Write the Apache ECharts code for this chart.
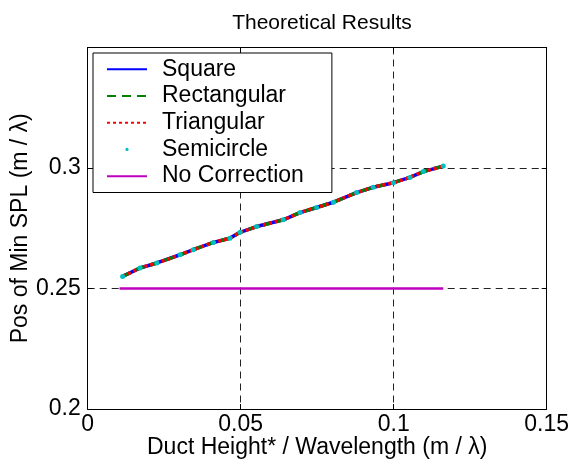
<!DOCTYPE html>
<html>
<head>
<meta charset="utf-8">
<script src="https://cdn.jsdelivr.net/npm/echarts@6/dist/echarts.min.js"></script>
<style>
html,body{margin:0;padding:0;background:#fff;}
#chart{width:573px;height:464px;}
</style>
</head>
<body>
<div id="chart"></div>
<script>
// ---- data ----
const xCorrected = [0.0114,0.0171,0.0226,0.0302,0.0345,0.0411,0.0465,0.0498,0.0552,0.0639,0.0694,0.0748,0.0803,0.0879,0.0933,0.0999,0.1053,0.1097,0.1162];
const ySquare      = [0.2550,0.2585,0.2606,0.2640,0.2661,0.2691,0.2709,0.2733,0.2757,0.2785,0.2815,0.2836,0.2858,0.2898,0.2920,0.2939,0.2961,0.2985,0.3008];
const yRectangular = [0.2550,0.2585,0.2606,0.2640,0.2661,0.2691,0.2709,0.2733,0.2757,0.2785,0.2815,0.2836,0.2858,0.2898,0.2920,0.2939,0.2961,0.2985,0.3008];
const yTriangular  = [0.2550,0.2585,0.2606,0.2640,0.2661,0.2691,0.2709,0.2733,0.2757,0.2785,0.2815,0.2836,0.2858,0.2898,0.2920,0.2939,0.2961,0.2985,0.3008];
const ySemicircle  = [0.2550,0.2585,0.2606,0.2640,0.2661,0.2691,0.2709,0.2733,0.2757,0.2785,0.2815,0.2836,0.2858,0.2898,0.2920,0.2939,0.2961,0.2985,0.3008];
const xNoCorrection = [0.0104, 0.1162];
const yNoCorrection = [0.25, 0.25];
const seriesNames = ['Square','Rectangular','Triangular','Semicircle','No Correction'];
const xTicks = [0, 0.05, 0.1, 0.15];
const yTicks = [0.2, 0.25, 0.3];

const pairs = (xs, ys) => xs.map((x, i) => [x, ys[i]]);
const FONT = "'Liberation Sans', Arial, Helvetica, sans-serif";
const FS = 23;

const chart = echarts.init(document.getElementById('chart'), null, {renderer: 'canvas'});

const gridLine = {show: true, lineStyle: {color: '#222', type: [7, 5], width: 1}};
const axisCommon = {
  axisLine: {show: true, onZero: false, lineStyle: {color: '#000', width: 1}},
  axisTick: {show: true, inside: true, length: 5, lineStyle: {color: '#000'}}
};

chart.setOption({
  animation: false,
  backgroundColor: '#fff',
  textStyle: {fontFamily: FONT, color: '#000'},
  title: {
    text: 'Theoretical Results',
    left: 317, top: 8, textAlign: 'center',
    textStyle: {fontFamily: FONT, fontSize: 21, fontWeight: 'normal', color: '#000'}
  },
  grid: {left: 87.7, top: 47.5, right: 26.3, bottom: 55, containLabel: false, outerBoundsMode: 'none'},
  legend: {
    orient: 'vertical',
    left: 93, top: 53,
    data: seriesNames.map(n => n === 'Semicircle' ? {name: n} : {name: n, itemStyle: {opacity: 0}}),
    itemWidth: 40, itemHeight: 4, itemGap: 0,
    padding: [3, 28, 3, 13],
    borderColor: '#000', borderWidth: 1, backgroundColor: '#fff',
    textStyle: {fontFamily: FONT, fontSize: FS, color: '#000', lineHeight: 26.7, padding: [0, 0, 0, 10]},
    selectedMode: false
  },
  xAxis: [
    Object.assign({
      type: 'value', position: 'bottom', min: xTicks[0], max: xTicks[xTicks.length - 1], interval: 0.05,
      name: 'Duct Height* / Wavelength (m / λ)', nameLocation: 'middle', nameGap: 27, nameMoveOverlap: false,
      nameTextStyle: {fontFamily: FONT, fontSize: FS, color: '#000'},
      axisLabel: {fontFamily: FONT, fontSize: FS, color: '#000', margin: 4,
        formatter: v => String(+v.toFixed(2))},
      splitLine: gridLine
    }, axisCommon),
    Object.assign({
      type: 'value', position: 'top', min: xTicks[0], max: xTicks[xTicks.length - 1], interval: 0.05,
      axisLabel: {show: false}, splitLine: {show: false}
    }, axisCommon)
  ],
  yAxis: [
    Object.assign({
      type: 'value', position: 'left', min: 0.2, max: 0.35, interval: 0.05,
      name: 'Pos of Min SPL (m / λ)', nameLocation: 'middle', nameGap: 56, nameMoveOverlap: false,
      nameTextStyle: {fontFamily: FONT, fontSize: FS, color: '#000'},
      axisLabel: {fontFamily: FONT, fontSize: FS, color: '#000', margin: 7,
        formatter: v => (v > 0.34 ? '' : String(+v.toFixed(2)))},
      splitLine: gridLine
    }, axisCommon),
    Object.assign({
      type: 'value', position: 'right', min: 0.2, max: 0.35, interval: 0.05,
      axisLabel: {show: false}, splitLine: {show: false}
    }, axisCommon)
  ],
  series: [
    {name: 'Square', type: 'line', data: pairs(xCorrected, ySquare), symbol: 'none',
     lineStyle: {color: '#0000ff', width: 3.5}, itemStyle: {color: '#0000ff'}, z: 3},
    {name: 'Rectangular', type: 'line', data: pairs(xCorrected, yRectangular), symbol: 'none',
     lineStyle: {color: '#008000', width: 3.5, type: [9, 6]}, itemStyle: {color: '#008000'}, z: 4},
    {name: 'Triangular', type: 'line', data: pairs(xCorrected, yTriangular), symbol: 'none',
     lineStyle: {color: '#ff0000', width: 3.5, type: [3, 3]}, itemStyle: {color: '#ff0000'}, z: 5},
    {name: 'Semicircle', type: 'line', data: pairs(xCorrected, ySemicircle), symbol: 'circle', symbolSize: 5,
     showSymbol: true, showAllSymbol: true,
     lineStyle: {width: 0, opacity: 0}, itemStyle: {color: '#00bfbf'}, z: 6},
    {name: 'No Correction', type: 'line', data: pairs(xNoCorrection, yNoCorrection), symbol: 'none',
     lineStyle: {color: '#bf00bf', width: 2.5}, itemStyle: {color: '#bf00bf'}, z: 3}
  ]
});
</script>
</body>
</html>
